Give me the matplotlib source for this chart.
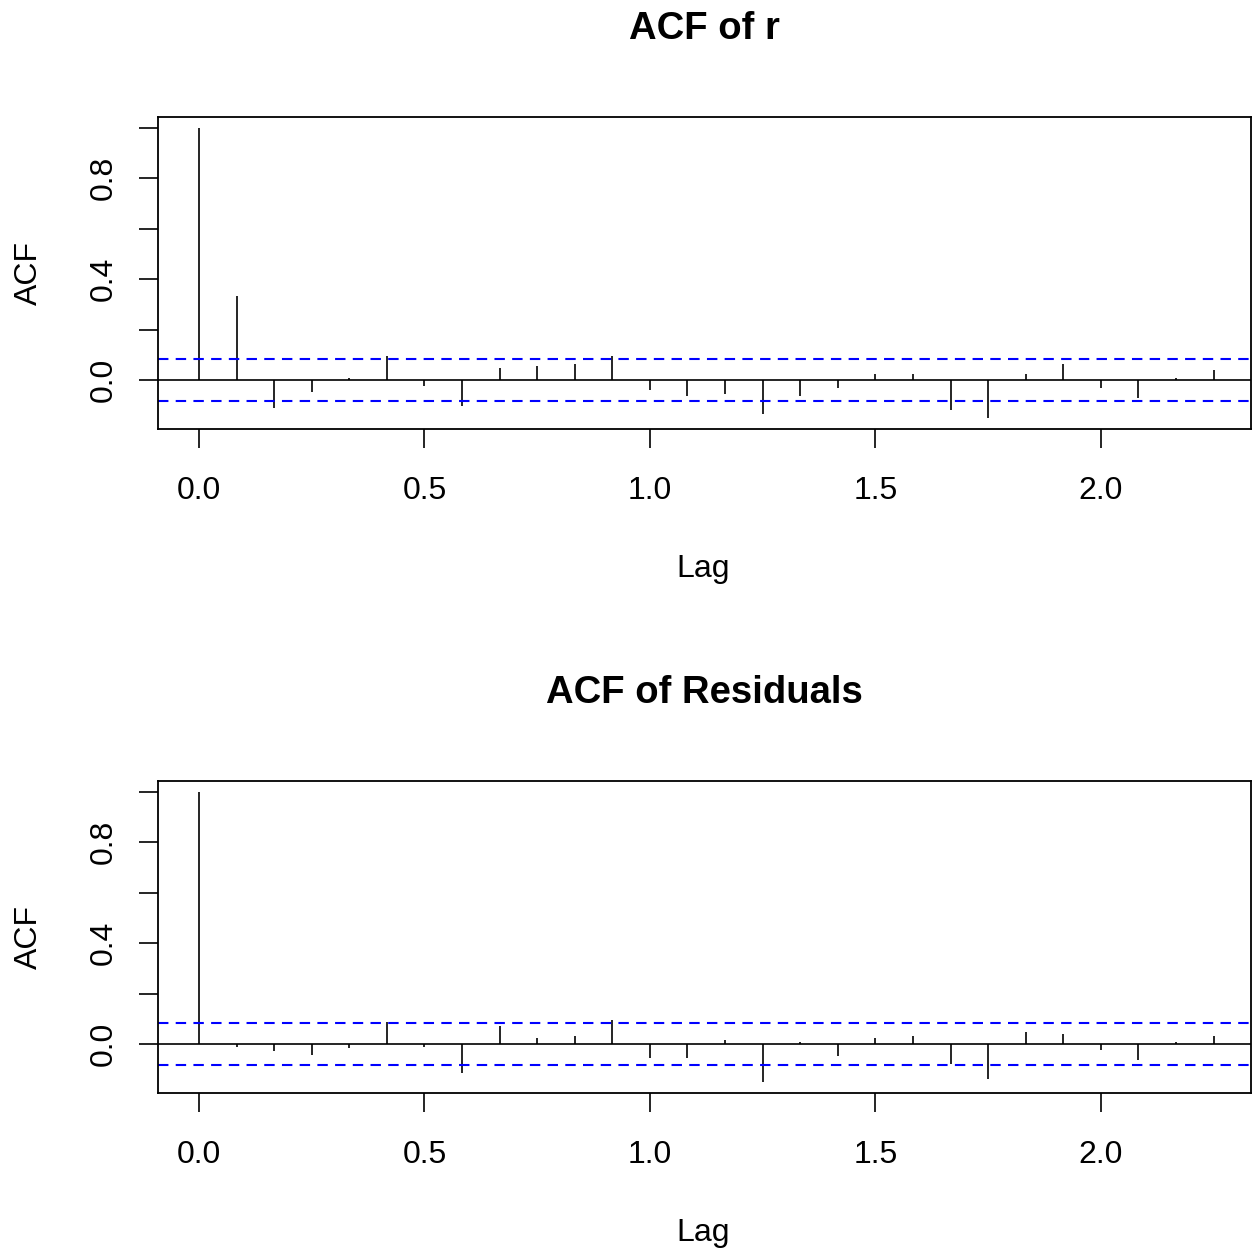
import numpy as np
import matplotlib
matplotlib.use("Agg")
import matplotlib.pyplot as plt

# Data (lags in years: 0..27 months / 12)
lags = [k / 12 for k in range(28)]
acf_r = [1.0, 0.334, -0.108, -0.046, 0.008, 0.095, -0.022, -0.102, 0.048, 0.057,
         0.063, 0.095, -0.038, -0.062, -0.054, -0.133, -0.062, -0.030, 0.024, 0.024,
         -0.116, -0.148, 0.024, 0.063, -0.030, -0.070, 0.008, 0.040]
acf_res = [1.0, -0.012, -0.028, -0.044, -0.013, 0.087, -0.012, -0.115, 0.074, 0.025,
           0.034, 0.098, -0.053, -0.053, 0.018, -0.148, 0.011, -0.045, 0.026, 0.034,
           -0.080, -0.139, 0.050, 0.042, -0.021, -0.061, 0.011, 0.034]
ci = 0.083
titles = ["ACF of r", "ACF of Residuals"]
xticks = [0.0, 0.5, 1.0, 1.5, 2.0]
xticklabels = ["0.0", "0.5", "1.0", "1.5", "2.0"]
yticks = [0.0, 0.2, 0.4, 0.6, 0.8, 1.0]
yticklabels = ["0.0", "", "0.4", "", "0.8", ""]

plt.rcParams['font.family'] = ['Liberation Sans', 'DejaVu Sans']

W, H = 1252, 1251
fig = plt.figure(figsize=(W / 100, H / 100), dpi=100)

AX_L, AX_R = 158, 1251

def px_axes(left, top, right, bottom):
    return fig.add_axes([left / W, 1 - bottom / H, (right - left) / W, (bottom - top) / H])

panels = [(117, 429, acf_r), (781, 1093, acf_res)]
for (top, bottom, vals), title in zip(panels, titles):
    ax = px_axes(AX_L, top, AX_R, bottom)
    hpx = bottom - top
    wpx = AX_R - AX_L
    ax.vlines(lags, 0, vals, color='black', linewidth=1.2)
    ax.axhline(0, color='black', linewidth=1.2)
    ax.axhline(ci, color='blue', linewidth=1.5, linestyle=(0, (5, 3.5)))
    ax.axhline(-ci, color='blue', linewidth=1.5, linestyle=(0, (5, 3.5)))
    ax.set_xlim(-0.0909, 2.333)
    ax.set_ylim(-0.193, 1.043)
    for s in ax.spines.values():
        s.set_linewidth(1.3)
    ax.set_xticks(xticks)
    ax.set_xticklabels(xticklabels)
    ax.set_yticks(yticks)
    ax.set_yticklabels(yticklabels, rotation=90, va='center')
    ax.tick_params(axis='both', direction='out', length=13.5, width=1.2,
                   labelsize=23)
    ax.tick_params(axis='x', pad=20)
    ax.tick_params(axis='y', pad=15)
    ax.set_xlabel("Lag", fontsize=23, va='center')
    ax.xaxis.set_label_coords(0.5 - 1 / wpx, -140 / hpx)
    ax.set_ylabel("ACF", fontsize=23, va='center')
    ax.yaxis.set_label_coords((29 - AX_L) / wpx, 0.5)
    ax.set_title(title, fontsize=27.5, fontweight='bold', va='center', pad=0,
                 y=(bottom - (top - 88)) / hpx)

fig.savefig("out.png", dpi=100)
